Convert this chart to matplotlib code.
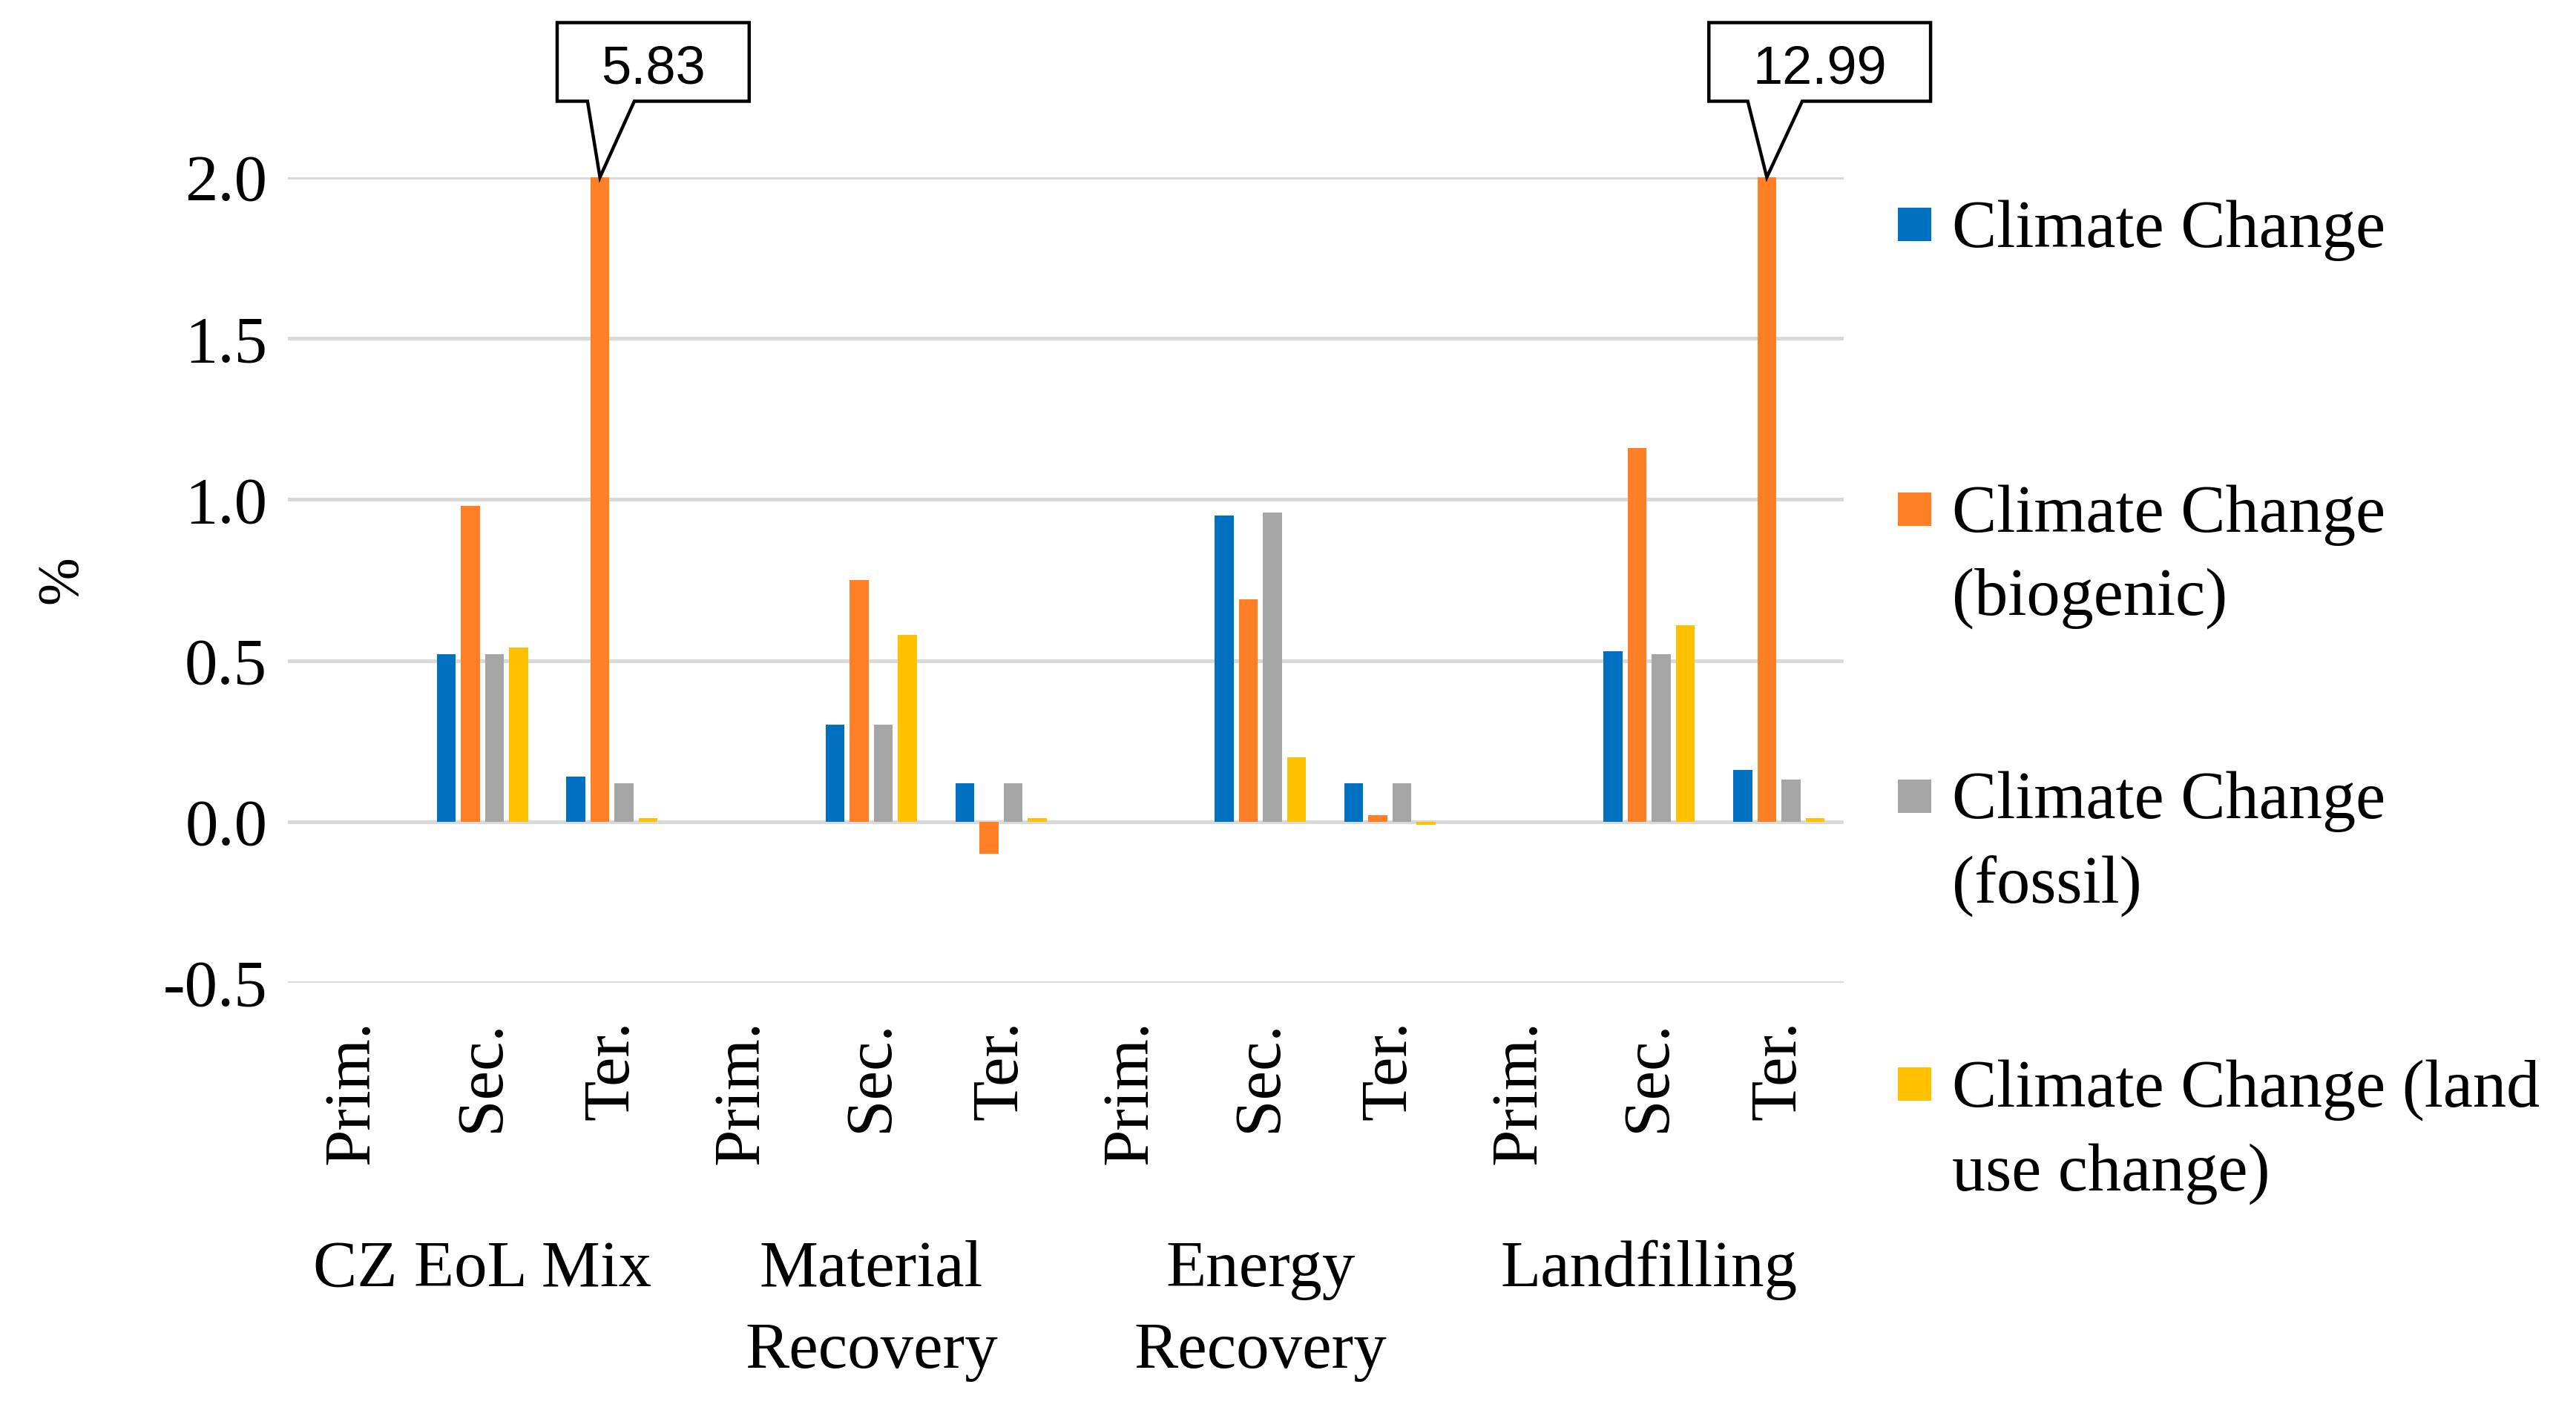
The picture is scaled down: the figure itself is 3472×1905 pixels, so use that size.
import matplotlib
matplotlib.use("Agg")
import matplotlib.pyplot as plt
from matplotlib.patches import Polygon, Rectangle
from matplotlib.transforms import blended_transform_factory
import numpy as np

# ---------------- data ----------------
groups = ["CZ EoL Mix", "Material\nRecovery", "Energy\nRecovery", "Landfilling"]
stages = ["Prim.", "Sec.", "Ter."]
series = ["Climate Change", "Climate Change\n(biogenic)",
          "Climate Change\n(fossil)", "Climate Change (land\nuse change)"]
cc       = [0, 0.52, 0.14, 0, 0.30, 0.12, 0, 0.95, 0.12, 0, 0.53, 0.16]
cc_bio   = [0, 0.98, 5.83, 0, 0.75, -0.10, 0, 0.69, 0.02, 0, 1.16, 12.99]
cc_fos   = [0, 0.52, 0.12, 0, 0.30, 0.12, 0, 0.96, 0.12, 0, 0.52, 0.13]
cc_luc   = [0, 0.54, 0.01, 0, 0.58, 0.01, 0, 0.20, -0.01, 0, 0.61, 0.01]
yticks = [-0.5, 0.0, 0.5, 1.0, 1.5, 2.0]
colors = ["#0070C0", "#FF7F27", "#A5A5A5", "#FFC000"]

values = [cc, cc_bio, cc_fos, cc_luc]
W, H = 3473, 1905
DPI = 200
fig = plt.figure(figsize=(W / DPI, H / DPI), dpi=DPI)
serif = ["Liberation Serif", "DejaVu Serif"]
FS = 31
LS = 1.47

def fx(px):
    return px / W

def fy(py):
    return 1 - py / H

ax = fig.add_axes([fx(388), fy(1325), fx(2485) - fx(388), fy(239) - fy(1325)])
ncat = len(groups) * len(stages)
xc = np.arange(ncat) + 0.5
pitch, bw = 0.186, 0.145
for j, (vals, col) in enumerate(zip(values, colors)):
    ax.bar(xc + (j - 1.5) * pitch, vals, width=bw, color=col, zorder=3)

ax.set_xlim(0, ncat)
ax.set_ylim(yticks[0], yticks[-1])
ax.set_yticks(yticks)
ax.set_yticklabels([f"{t:.1f}" for t in yticks], family=serif, fontsize=FS + 1)
ax.yaxis.grid(True, color="#D9D9D9", linewidth=1.8, zorder=0)
ax.set_axisbelow(True)
for s in ax.spines.values():
    s.set_visible(False)
ax.tick_params(axis="y", length=0, pad=10)
ax.set_xticks(xc)
ax.set_xticklabels(stages * len(groups), rotation=90, family=serif, fontsize=FS + 1,
                   va="top", ha="center")
ax.tick_params(axis="x", length=0, pad=18)

# group labels
tr = blended_transform_factory(ax.transData, fig.transFigure)
for g, name in enumerate(groups):
    ax.text(g * 3 + 1.5, fy(1672), name, transform=tr,
            ha="center", va="top", family=serif, fontsize=FS + 1, linespacing=LS)

fig.text(fx(84), fy(782), "%", rotation=90, ha="center", va="center",
         family=serif, fontsize=FS - 3)

# callouts for clipped bars
def callout(cat, box_x0, box_x1, base_x0, base_x1, text):
    tipx = cat + 0.5 - 0.5 * pitch
    tipy = yticks[-1]
    yb, yt = 2.236, 2.48
    poly = Polygon([(box_x0, yt), (box_x1, yt), (box_x1, yb), (base_x1, yb),
                    (tipx, tipy), (base_x0, yb), (box_x0, yb)], closed=True,
                   facecolor="white", edgecolor="black", linewidth=1.6,
                   clip_on=False, zorder=5)
    ax.add_patch(poly)
    ax.text((box_x0 + box_x1) / 2, (yb + yt) / 2 - 0.025, text, ha="center", va="center",
            family=["Liberation Sans", "DejaVu Sans"], fontsize=26, zorder=6,
            clip_on=False)

callout(2, 2.077, 3.558, 2.311, 2.672, f"{cc_bio[2]:.2f}")
callout(11, 10.96, 12.67, 11.26, 11.68, f"{cc_bio[11]:.2f}")

# legend (manual)
leg_y = [303, 687, 1074, 1462]
for name, col, yc in zip(series, colors, leg_y):
    fig.patches.append(Rectangle((fx(2558), fy(yc + 22)), fx(45), 45 / H,
                                 transform=fig.transFigure, facecolor=col,
                                 edgecolor="none"))
    fig.text(fx(2631), fy(yc - 34), name, ha="left", va="top", family=serif,
             fontsize=FS + 1.5, linespacing=LS)

fig.savefig("out.png", dpi=DPI, facecolor="white")
